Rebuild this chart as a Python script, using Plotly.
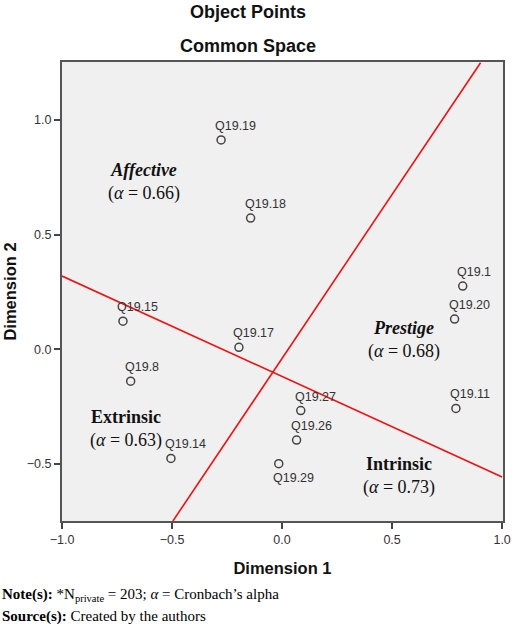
import plotly.graph_objects as go

# ---- data ----
labels = ["Q19.19", "Q19.18", "Q19.15", "Q19.17", "Q19.8", "Q19.14",
          "Q19.27", "Q19.26", "Q19.29", "Q19.11", "Q19.1", "Q19.20"]
dim1 = [-0.277, -0.143, -0.723, -0.196, -0.688, -0.505,
        0.085, 0.066, -0.015, 0.790, 0.821, 0.784]
dim2 = [0.913, 0.572, 0.122, 0.008, -0.140, -0.477,
        -0.268, -0.397, -0.500, -0.259, 0.275, 0.131]
label_pos = ["top", "top", "top", "top", "top", "top",
             "top", "top", "bottom", "top", "top", "top"]

line_a_x = [-0.496, 0.902]
line_a_y = [-0.75, 1.25]
line_b_x = [-1.0, 1.0]
line_b_y = [0.319, -0.558]

factors = ["<i>Affective</i>", "<i>Prestige</i>", "Extrinsic", "Intrinsic"]
alphas = [0.66, 0.68, 0.63, 0.73]
factor_x = [-0.627, 0.556, -0.708, 0.533]
factor_y = [0.729, 0.041, -0.349, -0.552]

x_ticks = [-1.0, -0.5, 0.0, 0.5, 1.0]
y_ticks = [-0.5, 0.0, 0.5, 1.0]

SANS = "Liberation Sans, Arial, sans-serif"
SERIF = "Liberation Serif, Times New Roman, serif"

fig = go.Figure()

fig.add_trace(go.Scatter(x=line_a_x, y=line_a_y, mode="lines",
                         line=dict(color="#f01010", width=1.6),
                         hoverinfo="skip", showlegend=False))
fig.add_trace(go.Scatter(x=line_b_x, y=line_b_y, mode="lines",
                         line=dict(color="#f01010", width=1.6),
                         hoverinfo="skip", showlegend=False))

fig.add_trace(go.Scatter(
    x=dim1, y=dim2, mode="markers", showlegend=False,
    marker=dict(symbol="circle-open", size=8, color="#444444",
                line=dict(width=1.5, color="#444444"))))

for xv, yv, lab, pos in zip(dim1, dim2, labels, label_pos):
    fig.add_annotation(x=xv, y=yv, text=lab, showarrow=False,
                       xanchor="left", yanchor="bottom" if pos == "top" else "top",
                       xshift=-8, yshift=5 if pos == "top" else -5,
                       font=dict(family=SANS, size=12.5, color="#333333"))

for fx, fy, name, a in zip(factor_x, factor_y, factors, alphas):
    fig.add_annotation(x=fx, y=fy, text=f"<b>{name}</b><br>(<i>α</i> = {a:.2f})",
                       showarrow=False, align="center",
                       font=dict(family=SERIF, size=18, color="#111111"))

fig.update_layout(
    width=520, height=629,
    margin=dict(l=62, r=9, t=62, b=108),
    paper_bgcolor="white", plot_bgcolor="#f0f0f0",
    showlegend=False,
)
fig.add_annotation(xref="paper", yref="paper", x=0.5, y=1, yshift=50,
                   text="<b>Object Points</b>", showarrow=False,
                   font=dict(family=SANS, size=18, color="#111111"),
                   xanchor="center", yanchor="middle", xshift=-35)
fig.add_annotation(xref="paper", yref="paper", x=0.5, y=1, yshift=16,
                   text="<b>Common Space</b>", showarrow=False,
                   font=dict(family=SANS, size=18, color="#111111"),
                   xanchor="center", yanchor="middle", xshift=-35)

fig.update_xaxes(range=[-1.0, 1.004], tickvals=x_ticks,
                 ticktext=[f"{v:.1f}".replace("-", "−") for v in x_ticks],
                 showgrid=False, zeroline=False,
                 showline=True, mirror=True, linecolor="#555555", linewidth=2,
                 ticks="outside", ticklen=6, tickwidth=2, tickcolor="#444444",
                 tickfont=dict(family=SANS, size=12.5, color="#333333"),
                 title=dict(text="<b>Dimension 1</b>", standoff=16,
                            font=dict(family=SANS, size=16.5, color="#111111")))
fig.update_yaxes(range=[-0.75, 1.253], tickvals=y_ticks,
                 ticktext=[f"{v:.1f}".replace("-", "−") for v in y_ticks],
                 showgrid=False, zeroline=False,
                 showline=True, mirror=True, linecolor="#555555", linewidth=2,
                 ticks="outside", ticklen=6, tickwidth=2, tickcolor="#444444",
                 tickfont=dict(family=SANS, size=12.5, color="#333333"),
                 title=dict(text="<b>Dimension 2</b>", standoff=6,
                            font=dict(family=SANS, size=16.5, color="#111111")))

fig.add_annotation(xref="paper", yref="paper", x=0, y=0, xshift=-62, yshift=-74,
                   xanchor="left", yanchor="middle", showarrow=False, align="left",
                   text="<b>Note(s):</b> *N<sub>private</sub> = 203; <i>α</i> = Cronbach’s alpha",
                   font=dict(family=SERIF, size=15, color="#000000"))
fig.add_annotation(xref="paper", yref="paper", x=0, y=0, xshift=-62, yshift=-95,
                   xanchor="left", yanchor="middle", showarrow=False, align="left",
                   text="<b>Source(s):</b> Created by the authors",
                   font=dict(family=SERIF, size=15, color="#000000"))

fig.write_html("out.html")
